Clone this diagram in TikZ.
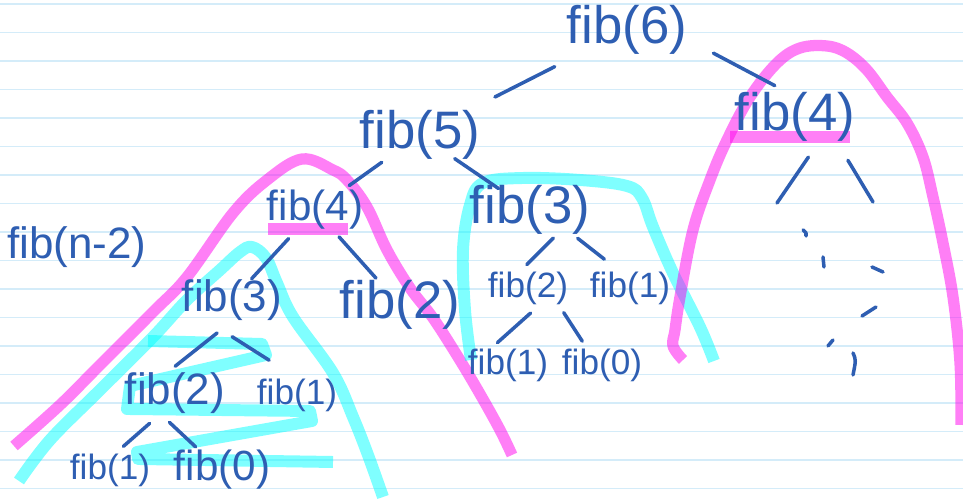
\documentclass[tikz,border=0pt]{standalone}
\usepackage{fontspec}
\setmainfont{Liberation Sans}
\definecolor{ink}{RGB}{46,94,178}
\definecolor{ruled}{RGB}{212,236,249}
\definecolor{hlpink}{RGB}{255,0,238}
\definecolor{hlcyan}{RGB}{0,255,255}

\begin{document}
\begin{tikzpicture}[x=0.01cm, y=-0.01cm,
  call/.style={text=ink, inner sep=0pt, font=\fontsize{#1}{#1}\selectfont},
  call/.default=15,
  branch/.style={draw=ink, line width=1pt, line cap=round, line join=round},
  pinkmark/.style={draw=hlpink, draw opacity=.5, line width=3.2pt, line join=round},
  cyanmark/.style={draw=hlcyan, draw opacity=.5, line width=3.4pt, line join=round}
]
  \fill[white] (0,0) rectangle (963,501);
  \useasboundingbox (0,0) rectangle (963,501);

  % ruled paper
  \foreach \k in {0,...,17}
    \draw[ruled, line width=.45pt] (0,{4+28.5*\k}) -- (963,{4+28.5*\k});

  % highlighter strokes
  \draw[pinkmark] plot[smooth, tension=.6] coordinates {(14,446) (60,405) (100,365) (153,312) (187,277) (233,213) (267,180) (302,159) (333,170) (347,180) (367,207) (387,250) (410,288) (433,318) (458,357) (480,394) (500,430) (512,455)};
  \draw[cyanmark] plot[smooth, tension=.6] coordinates {(19,481) (50,440) (100,390) (153,337) (187,300) (220,270) (240,252) (252,247) (266,258) (277,283) (293,317) (333,373) (353,417) (368,455) (383,497)};
  \draw[cyanmark] (148,341) -- (262,344) -- (266,355) -- (130,386) -- (127,409) -- (310,411) -- (312,421) -- (137,452) -- (138,459) -- (333,462);
  \draw[cyanmark] plot[smooth, tension=.6] coordinates {(471,360) (465,310) (463,250) (470,205) (483,183) (523,178) (580,180) (627,186) (642,198) (653,227) (673,273) (700,327) (714,361)};
  \draw[pinkmark] plot[smooth, tension=.6] coordinates {(683,360) (673,346) (675,330) (680,297) (693,230) (710,180) (727,140) (750,97) (777,63) (800,48) (827,46) (847,53) (867,70) (887,97) (907,123) (923,157) (933,197) (943,243) (953,297) (960,363) (961,425)};
  \draw[pinkmark, line width=3.5pt] (268,229) -- (348,229);
  \draw[pinkmark, line width=3.6pt] (730,137) -- (850,137);

  % calls
  \node[call] (f6) at (627,30) {fib(6)};
  \node[call] (f5) at (420,135) {fib(5)};
  \node[call] (f4r) at (795,117) {fib(4)};
  \node[call=12] (f4l) at (315,210) {fib(4)};
  \node[call] (f3m) at (530,210) {fib(3)};
  \node[call=12.5] (fn2) at (77,247) {fib(n-2)};
  \node[call=12.5] (f3l) at (232,300) {fib(3)};
  \node[call] (f2r) at (400,305) {fib(2)};
  \node[call=10] (f2m) at (528,288) {fib(2)};
  \node[call=10] (f1m) at (630,288) {fib(1)};
  \node[call=10] (f1mb) at (508,365) {fib(1)};
  \node[call=10] (f0m) at (602,365) {fib(0)};
  \node[call=12.5] (f2l) at (175,393) {fib(2)};
  \node[call=10] (f1l) at (297,395) {fib(1)};
  \node[call=10] (f1lb) at (110,470) {fib(1)};
  \node[call=12] (f0lb) at (222,470) {fib(0)};

  % branches
  \draw[branch, shorten <=0.81cm, shorten >=0.84cm] (f6.center) -- (f5.center);
  \draw[branch, shorten <=0.29cm, shorten >=0.13cm] (f6.-9) -- (f4r.109);
  \draw[branch, shorten <=0.47cm, shorten >=0.42cm] (f5.center) -- (f4l.center);
  \draw[branch, shorten <=0.42cm, shorten >=0.38cm] (f5.center) -- (f3m.center);
  \draw[branch, shorten <=0.39cm, shorten >=0.29cm] (f4l.center) -- (f3l.center);
  \draw[branch, shorten <=0.36cm, shorten >=0.36cm] (f4l.center) -- (f2r.center);
  \draw[branch, shorten <=0.04cm, shorten >=0.09cm] (f3m.-44) -- (f2m.114);
  \draw[branch, shorten <=0.05cm, shorten >=0.19cm] (f3m.-30) -- (f1m.122);
  \draw[branch, shorten <=0.12cm, shorten >=0.08cm] (f2m.-56) -- (f1mb.134);
  \draw[branch, shorten <=0.09cm, shorten >=0.08cm] (f2m.-29) -- (f0m.132);
  \draw[branch, shorten <=0.19cm, shorten >=0.09cm] (f3l.south) -- (f2l.108);
  \draw[branch, shorten <=0.29cm, shorten >=0.33cm] (f3l.-139) -- (f1l.north);
  \draw[branch, shorten <=0.14cm, shorten >=0.10cm] (f2l.-125) -- (f1lb.71);
  \draw[branch, shorten <=0.12cm, shorten >=0.04cm] (f2l.-124) -- (f0lb.139);

  % unexpanded subtree of the second fib(4)
  \coordinate (r1) at (777,203);
  \coordinate (r2) at (873,202);
  \draw[branch, shorten <=0.18cm] (f4r.-47) -- (r1);
  \draw[branch, shorten <=0.21cm] (f4r.-31) -- (r2);
  \draw[branch] (803,230) -- (806,233) -- (806,236);
  \draw[branch] (823,257) -- (824,267);
  \draw[branch] (872,267) -- (883,272);
  \draw[branch] (876,307) -- (862,316);
  \draw[branch] (833,340) -- (828,346);
  \draw[branch] (853,353) .. controls (856,360) .. (853,375);
\end{tikzpicture}
\end{document}
